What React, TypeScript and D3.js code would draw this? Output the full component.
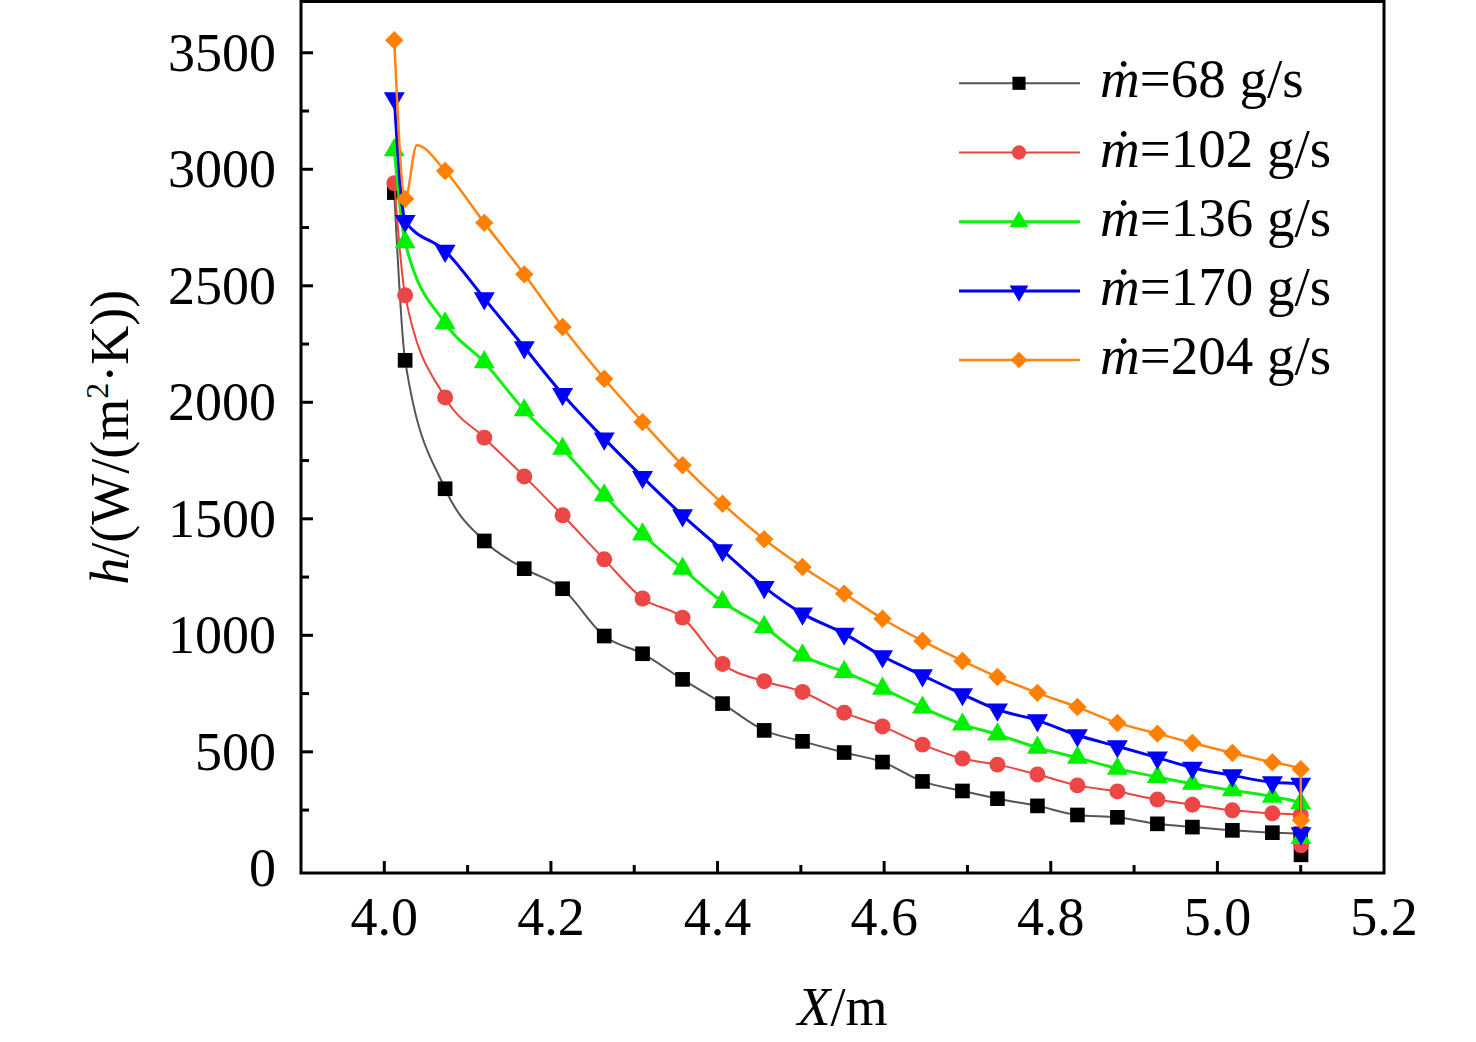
import React from 'react';
import * as d3 from 'd3';

// marker positions along the pipe (m); last two share x = 5.1 (step drop at the outlet)
const xMarks = [4.012, 4.025, 4.073, 4.12, 4.168, 4.214, 4.264, 4.31, 4.358, 4.406, 4.456, 4.502, 4.552,
  4.598, 4.646, 4.694, 4.736, 4.784, 4.832, 4.88, 4.928, 4.97, 5.018, 5.066, 5.1, 5.1];

const h68 = [2900, 2180, 1629, 1405, 1286, 1200, 997, 921, 811, 707, 592, 545, 497, 456, 373, 332, 299,
  268, 229, 219, 191, 177, 163, 153, 148, 58];
const h102 = [2940, 2459, 2021, 1848, 1682, 1515, 1326, 1158, 1076, 877, 803, 757, 668, 609, 531, 471, 445,
  403, 356, 330, 295, 273, 249, 236, 228, 99];
const h136 = [3082, 2687, 2339, 2172, 1966, 1801, 1601, 1433, 1286, 1143, 1036, 914, 843, 771, 690, 618, 575,
  518, 475, 428, 392, 363, 335, 307, 279, 130];
const h170 = [3305, 2778, 2650, 2446, 2236, 2035, 1844, 1679, 1515, 1365, 1207, 1093, 1007, 910, 828, 747, 681,
  635, 571, 524, 475, 432, 399, 369, 363, 150];
const h204 = [3554, 2873, 2993, 2770, 2549, 2323, 2101, 1915, 1730, 1565, 1412, 1293, 1179, 1071, 976, 890, 821,
  753, 692, 624, 578, 538, 495, 455, 425, 206];

// unmarked peak on the 204 g/s curve
const peak204 = { x: 4.039, h: 3103 };

const legendLabels = ['=68 g/s', '=102 g/s', '=136 g/s', '=170 g/s', '=204 g/s'];
const xTicks = [4.0, 4.2, 4.4, 4.6, 4.8, 5.0, 5.2];
const xMinor = [4.1, 4.3, 4.5, 4.7, 4.9, 5.1];
const yTicks = [0, 500, 1000, 1500, 2000, 2500, 3000, 3500];
const yMinor = [250, 750, 1250, 1750, 2250, 2750, 3250];

const W = 1476;
const H = 1042;
const left = 301, right = 1384, top = 1.5, bottom = 873;
const FONT = '"Liberation Serif", "Times New Roman", serif';

const x = d3.scaleLinear().domain([3.9, 5.2]).range([left, right]);
const y = d3.scaleLinear().domain([-20, 3720]).range([bottom, top]);

type Pt = { x: number; h: number };

const build = (vals: number[], extra?: Pt): Pt[] => {
  const pts = vals.map((h, i) => ({ x: xMarks[i] + (i === vals.length - 1 ? 0.0004 : 0), h }));
  if (extra) {
    pts.push(extra);
    pts.sort((a, b) => a.x - b.x);
  }
  return pts;
};

const series = [
  { vals: h68, line: '#555555', fill: '#000000', lw: 2, shape: 'square' },
  { vals: h102, line: '#E8453F', fill: '#EC4646', lw: 2, shape: 'circle' },
  { vals: h136, line: '#11EE11', fill: '#00F000', lw: 3, shape: 'up' },
  { vals: h170, line: '#0000F0', fill: '#0000FF', lw: 3, shape: 'down' },
  { vals: h204, line: '#FF8410', fill: '#FF8000', lw: 2.5, shape: 'diamond', extra: peak204 },
];

const lineGen = d3.line<Pt>().x(d => x(d.x)).y(d => y(d.h)).curve(d3.curveMonotoneX);

const markerPath = (shape: string, scale = 1): { d: string; rot: number } => {
  switch (shape) {
    case 'square': return { d: d3.symbol(d3.symbolSquare, 215 * scale)()!, rot: 0 };
    case 'circle': return { d: d3.symbol(d3.symbolCircle, 200 * scale)()!, rot: 0 };
    case 'up': return { d: d3.symbol(d3.symbolTriangle, 190 * scale)()!, rot: 0 };
    case 'down': return { d: d3.symbol(d3.symbolTriangle, 190 * scale)()!, rot: 180 };
    default: return { d: d3.symbol(d3.symbolSquare, 170 * scale)()!, rot: 45 };
  }
};

const App: React.FC = () => {
  const legendY0 = 83.3;
  const legendStep = 69.2;
  return (
    <svg width={W} height={H} style={{ position: 'absolute', left: 0, top: 0, background: '#fff' }}
      fontFamily={FONT}>
      <rect x={0} y={0} width={W} height={H} fill="#fff" />

      {/* series */}
      {series.map((s, si) => {
        const pts = build(s.vals);
        const linePts = build(s.vals, s.extra);
        const mk = markerPath(s.shape);
        return (
          <g key={si}>
            <path d={lineGen(linePts)!} fill="none" stroke={s.line} strokeWidth={s.lw} />
            {pts.map((p, i) => (
              <path key={i} d={mk.d} fill={s.fill}
                transform={`translate(${x(p.x)},${y(p.h)}) rotate(${mk.rot})`} />
            ))}
          </g>
        );
      })}

      {/* frame */}
      <rect x={left} y={top} width={right - left} height={bottom - top} fill="none" stroke="#000" strokeWidth={3} />

      {/* y ticks */}
      {yTicks.map(t => (
        <g key={`y${t}`}>
          {t > 0 && <line x1={left} x2={left + 12} y1={y(t)} y2={y(t)} stroke="#000" strokeWidth={3} />}
          <text x={276} y={y(t)} dy="0.33em" textAnchor="end" fontSize={54}>{t}</text>
        </g>
      ))}
      {yMinor.map(t => (
        <line key={`ym${t}`} x1={left} x2={left + 8} y1={y(t)} y2={y(t)} stroke="#000" strokeWidth={3} />
      ))}

      {/* x ticks */}
      {xTicks.map(t => (
        <g key={`x${t}`}>
          {t < 5.2 && <line x1={x(t)} x2={x(t)} y1={bottom} y2={bottom - 12} stroke="#000" strokeWidth={3} />}
          <text x={x(t)} y={935} textAnchor="middle" fontSize={54}>{t.toFixed(1)}</text>
        </g>
      ))}
      {xMinor.map(t => (
        <line key={`xm${t}`} x1={x(t)} x2={x(t)} y1={bottom} y2={bottom - 8} stroke="#000" strokeWidth={3} />
      ))}

      {/* axis titles */}
      <text x={(left + right) / 2} y={1025} textAnchor="middle" fontSize={54}>
        <tspan fontStyle="italic">X</tspan>/m
      </text>
      <text transform={`translate(128,${(top + bottom) / 2}) rotate(-90)`} textAnchor="middle" fontSize={54}>
        <tspan fontStyle="italic">h</tspan>/(W/(m<tspan fontSize={32} dy={-20}>2</tspan><tspan dy={20}>·K))</tspan>
      </text>

      {/* legend */}
      {series.map((s, i) => {
        const ly = legendY0 + i * legendStep;
        const mk = markerPath(s.shape, 0.8);
        return (
          <g key={`lg${i}`}>
            <line x1={959} x2={1080} y1={ly} y2={ly} stroke={s.line} strokeWidth={s.lw} />
            <path d={mk.d} fill={s.fill} transform={`translate(1019,${ly}) rotate(${mk.rot})`} />
            <text x={1100} y={ly + 14} fontSize={55}>
              <tspan fontStyle="italic">ṁ</tspan>{legendLabels[i]}
            </text>
          </g>
        );
      })}
    </svg>
  );
};

export default App;
